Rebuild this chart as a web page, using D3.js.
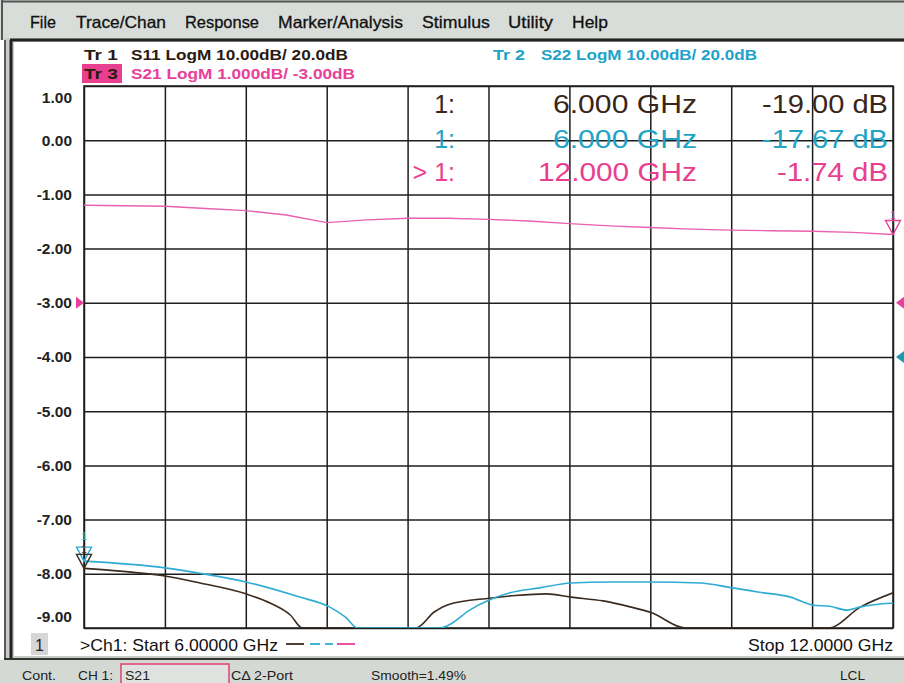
<!DOCTYPE html>
<html>
<head>
<meta charset="utf-8">
<script src="https://cdn.jsdelivr.net/npm/d3@7"></script>
<style>
  body { margin: 0; background: #fff; }
  svg { display: block; }
  text { font-family: "Liberation Sans", Arial, sans-serif; }
</style>
</head>
<body>
<script>
// S21 trace, dB on grid scale (1 dB/div, ref -3 dB)
const s21Freq = [6.00, 6.30, 6.60, 6.90, 7.20, 7.50, 7.80, 8.10, 8.40, 8.70, 9.00, 9.30, 9.60, 9.90, 10.20, 10.50, 10.80, 11.10, 11.40, 11.70, 12.00];
const s21Vals = [-1.20, -1.21, -1.22, -1.26, -1.30, -1.38, -1.52, -1.47, -1.44, -1.44, -1.46, -1.49, -1.54, -1.58, -1.61, -1.64, -1.66, -1.67, -1.68, -1.70, -1.74];

// S11 trace, dB (10 dB/div, ref 20 dB)
const s11Freq = [6.00, 6.27, 6.60, 6.86, 7.20, 7.38, 7.53, 7.62, 8.00, 8.30, 8.46, 8.60, 8.71, 9.01, 9.20, 9.43, 9.61, 9.85, 10.05, 10.21, 10.46, 11.00, 11.52, 11.76, 12.00];
const s11Vals = [-19.0, -19.5, -20.4, -21.7, -23.7, -25.4, -27.6, -30.5, -34.0, -33.0, -30.0, -27.0, -25.6, -24.5, -24.0, -23.7, -24.3, -25.0, -26.1, -27.2, -30.0, -33.0, -30.0, -26.1, -23.5];

// S22 trace, dB (10 dB/div, ref 20 dB)
const s22Freq = [6.00, 6.60, 6.86, 7.20, 7.60, 7.82, 7.94, 8.03, 8.30, 8.64, 8.71, 8.86, 9.01, 9.16, 9.38, 9.61, 9.90, 10.20, 10.57, 10.81, 11.01, 11.24, 11.41, 11.53, 11.66, 11.76, 12.00];
const s22Vals = [-17.67, -18.9, -19.9, -21.5, -24.3, -26.1, -28.0, -30.0, -32.0, -30.0, -29.4, -26.7, -24.8, -23.5, -22.6, -21.7, -21.5, -21.5, -21.7, -22.6, -23.4, -24.3, -25.8, -26.0, -26.7, -26.1, -25.4];

const yTickVals = [1, 0, -1, -2, -3, -4, -5, -6, -7, -8, -9];
const yTickLabels = ["1.00", "0.00", "-1.00", "-2.00", "-3.00", "-4.00", "-5.00", "-6.00", "-7.00", "-8.00", "-9.00"];
const xTickVals = [6.0, 6.6, 7.2, 7.8, 8.4, 9.0, 9.6, 10.2, 10.8, 11.4, 12.0];

const menuItems = ["File", "Trace/Chan", "Response", "Marker/Analysis", "Stimulus", "Utility", "Help"];
const menuX = [30, 76, 185, 278, 422, 508, 572];
const menuW = [26, 90, 74, 125, 68, 45, 36];

const readouts = [
  {mk: "1:", f: "6.000 GHz", v: "-19.00 dB", color: "#3a2618"},
  {mk: "1:", f: "6.000 GHz", v: "-17.67 dB", color: "#22a4c6"},
  {mk: "> 1:", f: "12.000 GHz", v: "-1.74 dB", color: "#e8408e"}
];

const W = 904, H = 683;
const cDark = "#3b2a1e", cTeal = "#2eacd4", cPink = "#e8409a";

const svg = d3.select("body").append("svg").attr("width", W).attr("height", H);

// menu bar
svg.append("rect").attr("x", 0).attr("y", 0).attr("width", W).attr("height", 40).attr("fill", "#d9ddd9");
svg.append("line").attr("x1", 2).attr("x2", W).attr("y1", 1.5).attr("y2", 1.5).attr("stroke", "#555").attr("stroke-width", 2);
svg.append("line").attr("x1", 2).attr("x2", 2).attr("y1", 0).attr("y2", 40).attr("stroke", "#555").attr("stroke-width", 2);
svg.selectAll("text.menu").data(menuItems).enter().append("text")
  .attr("class", "menu")
  .attr("x", (d, i) => menuX[i]).attr("y", 28)
  .attr("font-size", 16.5).attr("fill", "#111").attr("stroke", "#111").attr("stroke-width", 0.3)
  .attr("textLength", (d, i) => menuW[i]).attr("lengthAdjust", "spacingAndGlyphs")
  .text(d => d);

// window frame
svg.append("rect").attr("x", 4).attr("y", 38).attr("width", W - 4).attr("height", 622).attr("fill", "#c8ccc8");
svg.append("rect").attr("x", 14).attr("y", 42).attr("width", W - 14).attr("height", 614).attr("fill", "#fff");
svg.append("line").attr("x1", 10).attr("x2", W).attr("y1", 40).attr("y2", 40).attr("stroke", "#222").attr("stroke-width", 3);
svg.append("line").attr("x1", 11).attr("x2", 11).attr("y1", 40).attr("y2", 658).attr("stroke", "#222").attr("stroke-width", 3);
svg.append("line").attr("x1", 5).attr("x2", 5).attr("y1", 40).attr("y2", 660).attr("stroke", "#333").attr("stroke-width", 1.5);
svg.append("line").attr("x1", 4).attr("x2", W).attr("y1", 659).attr("y2", 659).attr("stroke", "#333").attr("stroke-width", 2);

// status bar
svg.append("rect").attr("x", 0).attr("y", 660).attr("width", W).attr("height", 23).attr("fill", "#d5d9d4");
const status = [["Cont.", 22, 34], ["CH 1:", 78, 35], ["S21", 125, 25], ["C\u0394 2-Port", 231, 62], ["Smooth=1.49%", 371, 95], ["LCL", 840, 25]];
svg.append("rect").attr("x", 121).attr("y", 664).attr("width", 108).attr("height", 22)
  .attr("fill", "#dfe2df").attr("stroke", "#e0407a").attr("stroke-width", 1.5);
svg.selectAll("text.status").data(status).enter().append("text")
  .attr("class", "status")
  .attr("x", d => d[1]).attr("y", 680).attr("font-size", 13).attr("fill", "#222")
  .attr("textLength", d => d[2]).attr("lengthAdjust", "spacingAndGlyphs")
  .text(d => d[0]);

// scales
const x = d3.scaleLinear().domain([6, 12]).range([84, 893]);
const yGrid = d3.scaleLinear().domain([-9, 1]).range([628, 86]);
const yLog = d3.scaleLinear().domain([-30, 70]).range([628, 86]).clamp(true);

// grid
const gx = svg.append("g").attr("transform", "translate(0,628)")
  .call(d3.axisBottom(x).tickValues(xTickVals).tickSize(-(628 - 86)).tickFormat(""));
const gy = svg.append("g").attr("transform", "translate(84,0)")
  .call(d3.axisLeft(yGrid).tickValues(yTickVals).tickSize(-(893 - 84)).tickPadding(12)
    .tickFormat((d, i) => yTickLabels[i]));
[gx, gy].forEach(g => {
  g.select(".domain").remove();
  g.selectAll(".tick line").attr("stroke", "#1e1e1e").attr("stroke-width", 1.5);
});
gy.selectAll(".tick text")
  .attr("font-size", 15.5).attr("font-weight", "bold").attr("fill", "#222")
  .attr("font-family", "'Liberation Sans', Arial, sans-serif")
  .attr("dy", (d, i) => i === 0 ? "1.05em" : (i === yTickVals.length - 1 ? "-0.45em" : "0.32em"));
svg.append("rect").attr("x", 84).attr("y", 86).attr("width", 809).attr("height", 542)
  .attr("fill", "none").attr("stroke", "#1e1e1e").attr("stroke-width", 1.5);

// header text
const header = [
  {t: "Tr 1", x: 84, y: 60, w: 34, c: "#2a1a10"},
  {t: "S11 LogM 10.00dB/ 20.0dB", x: 131, y: 60, w: 217, c: "#2a1a10"},
  {t: "Tr 2", x: 493, y: 60, w: 32, c: "#22a2c8"},
  {t: "S22 LogM 10.00dB/ 20.0dB", x: 541, y: 60, w: 216, c: "#22a2c8"},
  {t: "Tr 3", x: 84, y: 79, w: 34, c: "#2a1a10"},
  {t: "S21 LogM 1.000dB/ -3.00dB", x: 131, y: 79, w: 224, c: "#e8409a"}
];
svg.append("rect").attr("x", 82).attr("y", 64).attr("width", 40).attr("height", 19).attr("fill", "#e8408e");
svg.selectAll("text.hdr").data(header).enter().append("text")
  .attr("class", "hdr")
  .attr("x", d => d.x).attr("y", d => d.y).attr("font-size", 15.5).attr("font-weight", "bold").attr("fill", d => d.c)
  .attr("textLength", d => d.w).attr("lengthAdjust", "spacingAndGlyphs")
  .text(d => d.t);

// traces
svg.append("clipPath").attr("id", "plotclip").append("rect")
  .attr("x", 84).attr("y", 86).attr("width", 809).attr("height", 542);
const lineLog = d3.line().x(d => x(d[0])).y(d => yLog(d[1])).curve(d3.curveMonotoneX);
const lineGrid = d3.line().x(d => x(d[0])).y(d => yGrid(d[1]));
const plot = svg.append("g").attr("clip-path", "url(#plotclip)");
plot.append("path").datum(d3.zip(s11Freq, s11Vals)).attr("d", lineLog)
  .attr("fill", "none").attr("stroke", cDark).attr("stroke-width", 1.6);
plot.append("path").datum(d3.zip(s22Freq, s22Vals)).attr("d", lineLog)
  .attr("fill", "none").attr("stroke", cTeal).attr("stroke-width", 1.6);
plot.append("path").datum(d3.zip(s21Freq, s21Vals)).attr("d", lineGrid)
  .attr("fill", "none").attr("stroke", "#e860b0").attr("stroke-width", 1.4);

// markers (inverted triangles)
function marker(px, py, color, labelOffset) {
  svg.append("path")
    .attr("d", `M${px},${py} L${px - 7.5},${py - 14} L${px + 7.5},${py - 14} Z`)
    .attr("fill", "none").attr("stroke", color).attr("stroke-width", 1.4);
  svg.append("text").attr("x", px).attr("y", py - labelOffset).attr("text-anchor", "middle")
    .attr("font-size", 10).attr("fill", color).text("1");
}
marker(x(6), yLog(s22Vals[0]), cTeal, 21);
marker(x(6), yLog(s11Vals[0]), cDark, 15);
marker(x(12), yGrid(s21Vals[s21Vals.length - 1]), cPink, 16);

// reference position arrows
function refArrow(px, py, dir, color) {
  svg.append("path")
    .attr("d", `M${px},${py} L${px - dir * 8},${py - 6} L${px - dir * 8},${py + 6} Z`)
    .attr("fill", color);
}
refArrow(84, yGrid(-3), 1, cPink);
refArrow(896, yGrid(-3), -1, cPink);
refArrow(896, yLog(20), -1, "#1a9ab0");

// marker readouts
const rowY = [113, 148, 181];
readouts.forEach((r, i) => {
  const g = svg.append("g").attr("fill", r.color).attr("font-size", 25);
  g.append("text").attr("x", 455).attr("y", rowY[i]).attr("text-anchor", "end").text(r.mk);
  g.append("text").attr("x", 697).attr("y", rowY[i]).attr("text-anchor", "end")
    .attr("textLength", r.f.length > 9 ? 159 : 144).attr("lengthAdjust", "spacingAndGlyphs").text(r.f);
  g.append("text").attr("x", 888).attr("y", rowY[i]).attr("text-anchor", "end")
    .attr("textLength", r.v.length > 8 ? 126 : 111).attr("lengthAdjust", "spacingAndGlyphs").text(r.v);
});

// bottom annotations
svg.append("rect").attr("x", 31).attr("y", 633).attr("width", 17).attr("height", 22).attr("fill", "#d6d6d6");
svg.append("text").attr("x", 39.5).attr("y", 651).attr("text-anchor", "middle").attr("font-size", 16).attr("fill", "#222").text("1");
svg.append("text").attr("x", 80).attr("y", 651).attr("font-size", 17).attr("fill", "#111")
  .attr("textLength", 198).attr("lengthAdjust", "spacingAndGlyphs").text(">Ch1: Start  6.00000 GHz");
svg.append("text").attr("x", 893).attr("y", 651).attr("font-size", 17).attr("fill", "#111").attr("text-anchor", "end")
  .attr("textLength", 145).attr("lengthAdjust", "spacingAndGlyphs").text("Stop  12.0000 GHz");
const legendDash = [[286, 304, cDark], [310, 320, cTeal], [325, 333, cTeal], [337, 355, cPink]];
svg.selectAll("line.leg").data(legendDash).enter().append("line")
  .attr("class", "leg")
  .attr("x1", d => d[0]).attr("x2", d => d[1]).attr("y1", 644).attr("y2", 644)
  .attr("stroke", d => d[2]).attr("stroke-width", 1.8);
</script>
</body>
</html>
